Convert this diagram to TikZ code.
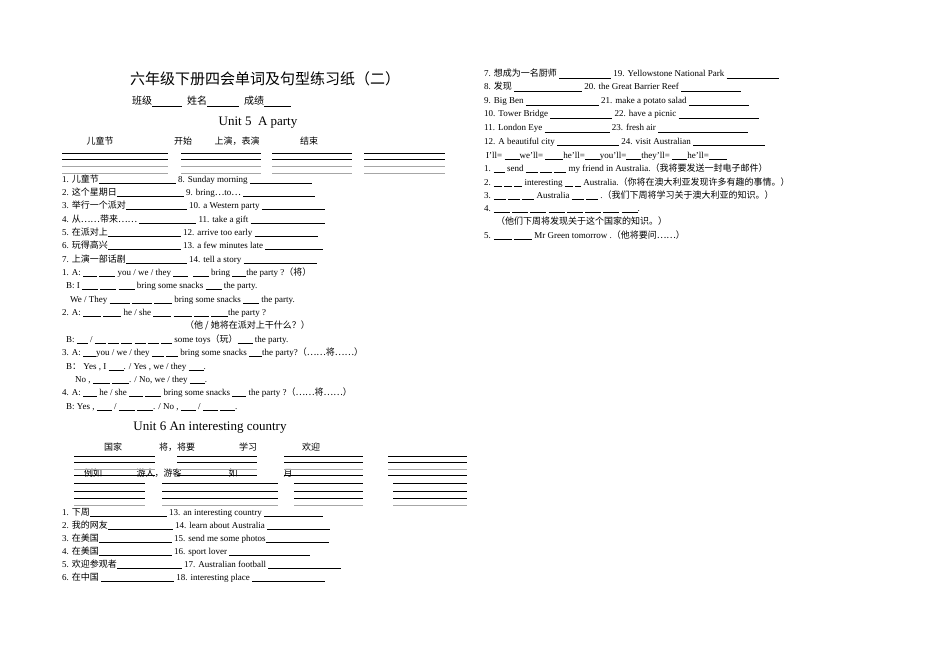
\documentclass[tikz,border=0pt]{standalone}
\usepackage{fontspec}
\setmainfont{Liberation Serif}
\newfontfamily\zhf{Noto Sans CJK SC}
\newcommand\zh[1]{{\zhf #1}}
\newcommand\bl[1]{\rule[-1pt]{#1pt}{0.45pt}}
\begin{document}
\begin{tikzpicture}[x=1pt,y=1pt,
 t/.style={anchor=base west,inner sep=0pt,font=\fontsize{9}{11}\selectfont},
 hd/.style={anchor=base,inner sep=0pt,font=\fontsize{9}{11}\selectfont},
 ln/.style={line width=0.5pt},
 gl/.style={line width=0.5pt,gray!70}]
\fill[white] (0,0) rectangle (950,-658);
\useasboundingbox (0,0) rectangle (950,-658);
% ---------- left column
\node[anchor=base,inner sep=0,font=\fontsize{15}{17}\selectfont] (title) at (265,-85) {\zh{六年级下册四会单词及句型练习纸（二）}};
\node[t,font=\fontsize{10}{12}\selectfont] (cls) at (132,-105) {\zh{班级}\bl{30} \ \zh{姓名}\bl{32} \ \zh{成绩}\bl{27}};
\node[anchor=base,inner sep=0,font=\fontsize{13}{15}\selectfont] (u5) at (258,-126) {Unit 5\ \ A party};
\node[hd] (h1) at (100,-145) {\zh{儿童节}};
\node[hd] (h2) at (183,-145) {\zh{开始}};
\node[hd] (h3) at (237,-145) {\zh{上演，表演}};
\node[hd] (h4) at (309,-145) {\zh{结束}};
\foreach \y/\s in {153/ln,159/ln,166/gl,173/gl}{
 \draw[\s] (62,-\y) -- (168,-\y); \draw[\s] (181,-\y) -- (261,-\y);
 \draw[\s] (272,-\y) -- (352,-\y); \draw[\s] (364,-\y) -- (445,-\y);}
\node[t] (a1) at (62,-182) {1. \zh{儿童节}\bl{77} 8. Sunday morning \bl{62}};
\node[t] (a2) at (62,-195) {2. \zh{这个星期日}\bl{67} 9. bring\zh{…}to\zh{…} \bl{72}};
\node[t] (a3) at (62,-208) {3. \zh{举行一个派对}\bl{61} 10. a Western party \bl{63}};
\node[t] (a4) at (62,-222) {4. \zh{从……带来……} \bl{57} 11. take a gift \bl{74}};
\node[t] (a5) at (62,-235) {5. \zh{在派对上}\bl{73} 12. arrive too early \bl{63}};
\node[t] (a6) at (62,-248) {6. \zh{玩得高兴}\bl{73} 13. a few minutes late \bl{58}};
\node[t] (a7) at (62,-262) {7. \zh{上演一部话剧}\bl{61} 14. tell a story \bl{73}};
\node[t] (d1) at (62,-275) {1. A: \bl{14} \bl{16} you / we / they \bl{15} \ \bl{16} bring \bl{14}the party ?\zh{（将）}};
\node[t] (d2) at (66,-288) {B: I \bl{16} \bl{16} \bl{16} bring some snacks \bl{16} the party.};
\node[t] (d3) at (70,-302) {We / They \bl{20} \bl{20} \bl{18} bring some snacks \bl{16} the party.};
\node[t] (d4) at (62,-315) {2. A: \bl{18} \bl{18} he / she \bl{18} \bl{18} \bl{15} \bl{17}the party ?};
\node[t] (d5) at (185,-328) {\zh{（他 / 她将在派对上干什么？）}};
\node[t] (d6) at (66,-342) {B: \bl{11} / \bl{11} \bl{11} \bl{11} \bl{11} \bl{11} \bl{11} some toys\zh{（玩）}\bl{15} the party.};
\node[t] (d7) at (62,-355) {3. A: \bl{13}you / we / they \bl{12} \bl{12} bring some snacks \bl{13}the party?\zh{（……将……）}};
\node[t] (d8) at (66,-369) {B\zh{：} Yes , I \bl{15}. / Yes , we / they \bl{15}.};
\node[t] (d9) at (75,-382) {No , \bl{17} \bl{17}. / No, we / they \bl{15}.};
\node[t] (d10) at (62,-395) {4. A: \bl{14} he / she \bl{14} \bl{16} bring some snacks \bl{14} the party ?\zh{（……将……）}};
\node[t] (d11) at (66,-409) {B: Yes , \bl{15} / \bl{16} \bl{16}. / No , \bl{15} / \bl{15} \bl{15}.};
\node[anchor=base,inner sep=0,font=\fontsize{13}{15}\selectfont] (u6) at (210,-430) {Unit 6 An interesting country};
\node[hd] (g1) at (113,-450) {\zh{国家}};
\node[hd] (g2) at (177,-450) {\zh{将，将要}};
\node[hd] (g3) at (248,-450) {\zh{学习}};
\node[hd] (g4) at (311,-450) {\zh{欢迎}};
\foreach \y in {456,462}{
 \draw[ln] (74,-\y) -- (155,-\y); \draw[ln] (177,-\y) -- (257,-\y);
 \draw[ln] (284,-\y) -- (363,-\y); \draw[ln] (388,-\y) -- (467,-\y);}
\node[hd] (k1) at (93,-476) {\zh{例如}};
\node[hd] (k2) at (159,-476) {\zh{游人，游客}};
\node[hd] (k3) at (233,-476) {\zh{如}};
\node[hd] (k4) at (288,-476) {\zh{月}};
\foreach \y/\s in {469/gl,475/ln}{
 \draw[\s] (74,-\y) -- (155,-\y); \draw[\s] (177,-\y) -- (257,-\y);
 \draw[\s] (284,-\y) -- (363,-\y); \draw[\s] (388,-\y) -- (467,-\y);}
\foreach \y/\s in {483/ln,491/ln,498/ln,505/gl}{
 \draw[\s] (74,-\y) -- (145,-\y); \draw[\s] (162,-\y) -- (278,-\y);
 \draw[\s] (294,-\y) -- (363,-\y); \draw[\s] (393,-\y) -- (467,-\y);}
\node[t] (b1) at (62,-515) {1. \zh{下周}\bl{77} 13. an interesting country \bl{59}};
\node[t] (b2) at (62,-528) {2. \zh{我的网友}\bl{65} 14. learn about Australia \bl{63}};
\node[t] (b3) at (62,-541) {3. \zh{在美国}\bl{73} 15. send me some photos\bl{63}};
\node[t] (b4) at (62,-554) {4. \zh{在美国}\bl{73} 16. sport lover \bl{81}};
\node[t] (b5) at (62,-567) {5. \zh{欢迎参观者}\bl{65} 17. Australian football \bl{73}};
\node[t] (b6) at (62,-580) {6. \zh{在中国} \bl{73} 18. interesting place \bl{73}};
% ---------- right column
\node[t] (r1) at (484,-77) {7. \zh{想成为一名厨师} \bl{52} 19. Yellowstone National Park \bl{52}};
\node[t] (r2) at (484,-90) {8. \zh{发现} \bl{68} 20. the Great Barrier Reef \bl{60}};
\node[t] (r3) at (484,-104) {9. Big Ben \bl{73} 21. make a potato salad \bl{60}};
\node[t] (r4) at (484,-117) {10. Tower Bridge \bl{62} 22. have a picnic \bl{80}};
\node[t] (r5) at (484,-131) {11. London Eye \bl{65} 23. fresh air \bl{90}};
\node[t] (r6) at (484,-144) {12. A beautiful city \bl{62} 24. visit Australian \bl{72}};
\node[t] (r7) at (486,-158) {I’ll= \bl{15}we’ll= \bl{18}he’ll=\bl{15}you’ll=\bl{15}they’ll= \bl{15}he’ll=\bl{18}};
\node[t] (r8) at (484,-171) {1. \bl{11} send \bl{12} \bl{12} \bl{12} my friend in Australia.\zh{（我将要发送一封电子邮件）}};
\node[t] (r9) at (484,-185) {2. \bl{8} \bl{8} \bl{8} interesting \bl{8} \bl{6} Australia.\zh{（你将在澳大利亚发现许多有趣的事情。）}};
\node[t] (r10) at (484,-198) {3. \bl{12} \bl{12} \bl{12} Australia \bl{12} \bl{12} .\zh{（我们下周将学习关于澳大利亚的知识。）}};
\node[t] (r11) at (484,-211) {4. \bl{16} \bl{16} \bl{16} \bl{16} \bl{16} \bl{16} \bl{16} \bl{16}.};
\node[t] (r12) at (496,-224) {\zh{（他们下周将发现关于这个国家的知识。）}};
\node[t] (r13) at (484,-238) {5. \bl{18} \bl{18} Mr Green tomorrow .\zh{（他将要问……）}};
\end{tikzpicture}
\end{document}
